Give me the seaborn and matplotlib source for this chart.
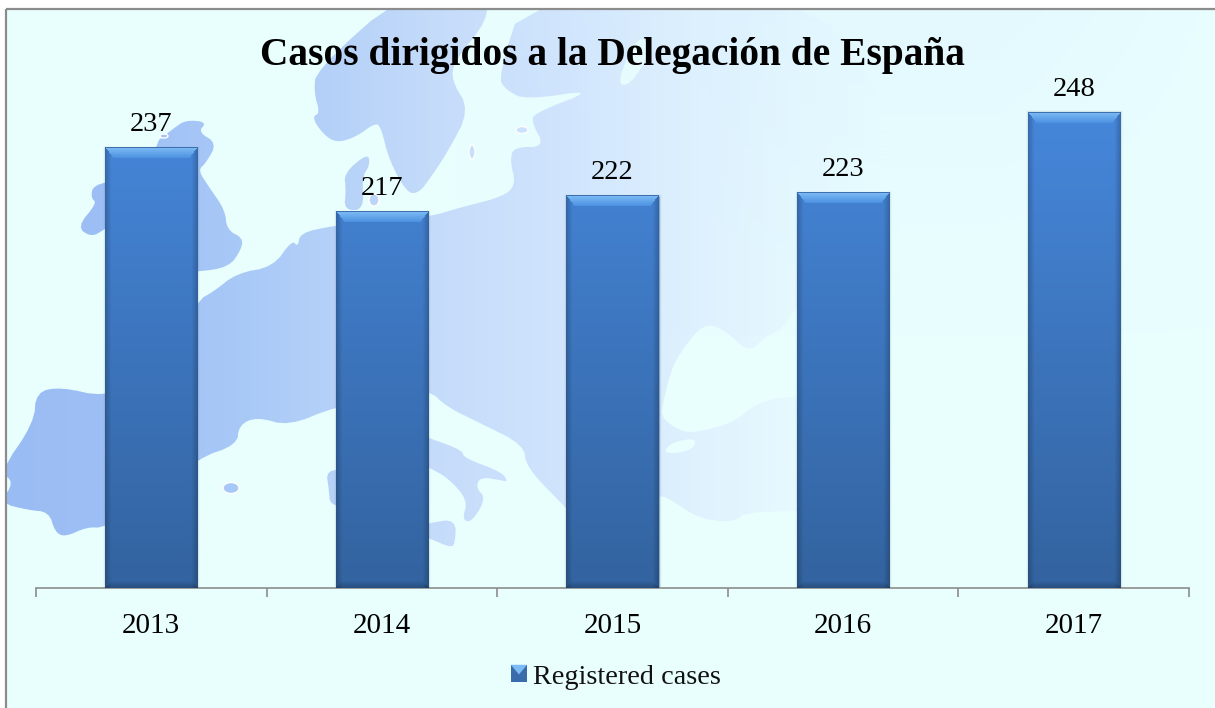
import matplotlib
matplotlib.use("Agg")
import matplotlib.pyplot as plt
import numpy as np
import seaborn as sns
from matplotlib.colors import to_rgb
from matplotlib.legend_handler import HandlerPatch
from matplotlib.patches import Ellipse, Polygon, Rectangle

years = ["2013", "2014", "2015", "2016", "2017"]
cases = [237, 217, 222, 223, 248]
series_name = "Registered cases"
title = "Casos dirigidos a la Delegación de España"

# map picture behind the chart, in image pixels
mainland = [(36, 392), (61, 387), (104, 397), (150, 380), (198, 300), (213, 292), (237, 273), (273, 267),
            (292, 240), (298, 247), (300, 233), (332, 226), (380, 220), (429, 217), (462, 207), (502, 197),
            (516, 185), (510, 160), (514, 147), (545, 147), (532, 123), (534, 113), (597, 89), (526, 100),
            (506, 90), (498, 77), (525, -8), (900, -8), (900, 513), (749, 510), (733, 523), (698, 518),
            (676, 503), (661, 495), (650, 500), (620, 565), (565, 507), (526, 467), (524, 445), (480, 423),
            (447, 407), (429, 390), (400, 395), (334, 407), (289, 426), (257, 417), (239, 425), (237, 445),
            (198, 458), (150, 500), (104, 528), (87, 527), (65, 537), (55, 532), (49, 512), (28, 510),
            (0, 503), (14, 482), (0, 472), (34, 423)]
sweden = [(403, -8), (316, 70), (314, 93), (320, 113), (312, 117), (322, 133), (336, 143), (356, 137),
          (375, 123), (381, 127), (389, 160), (407, 193), (419, 193), (431, 177), (447, 153), (470, 110),
          (451, 80), (455, 60), (488, 20), (486, -8)]
britain = [(174, 128), (186, 120), (207, 122), (198, 132), (217, 143), (206, 163), (198, 170), (209, 187),
           (225, 210), (227, 230), (243, 238), (241, 250), (229, 267), (198, 272), (150, 272), (150, 147)]
ireland = [(93, 185), (91, 198), (97, 203), (77, 227), (91, 237), (104, 230), (130, 210), (120, 180)]
denmark = [(344, 173), (368, 153), (370, 165), (362, 177), (364, 210), (344, 210), (346, 190)]
italy = [(380, 420), (429, 438), (462, 450), (464, 458), (502, 472), (508, 482), (500, 480), (480, 477),
         (476, 488), (486, 498), (472, 522), (462, 520), (468, 500), (447, 477), (429, 468), (390, 445)]
sicily = [(400, 530), (429, 523), (456, 519), (455, 545), (449, 547), (429, 538)]
corsica = [(326, 470), (350, 470), (350, 507), (330, 505), (329, 490)]
black_sea = [(663, 403), (671, 370), (682, 350), (704, 323), (725, 330), (749, 353), (765, 337), (784, 328),
             (800, 300), (920, 300), (920, 395), (792, 395), (757, 403), (733, 423), (694, 433), (678, 430),
             (661, 417)]
marmara = [(663, 453), (672, 442), (696, 438), (694, 448), (680, 453)]
ladoga = [(639, 33), (616, 83), (630, 86), (652, 50)]
land_shapes = [mainland, sweden, britain, ireland, denmark, italy, sicily, corsica]
sea_shapes = [black_sea, marmara, ladoga]
islands = [(231, 488, 16, 11), (472, 152, 6, 14), (522, 130, 12, 7), (374, 200, 10, 12), (164, 136, 8, 4)]

land_x = [0, 100, 250, 430, 560, 700, 800, 880]
land_col = ["#9ABCF4", "#9DBFF5", "#A9C9F7", "#C4DBFA", "#D0E4FD", "#DFF2FE", "#E6FAFF", "#E9FFFE"]
sea_col = "#E9FFFE"
tint_col = "#D8EEFF"
frame_col = "#8C8C8C"

sns.set_theme(style="white")
plt.rcParams["font.family"] = ["Liberation Serif", "DejaVu Serif"]


def soften(shape, rounds=2):
    # corner cutting so the coast does not look faceted
    pts = np.array(shape, dtype=float)
    for _ in range(rounds):
        nxt = np.roll(pts, -1, axis=0)
        pts = np.column_stack([0.75 * pts + 0.25 * nxt, 0.25 * pts + 0.75 * nxt]).reshape(-1, 2)
    return pts


fig = plt.figure(figsize=(12.15, 7.08), dpi=100, facecolor="white")

# background layer
bg = fig.add_axes([0, 0, 1, 1])
bg.set_xlim(0, 1215)
bg.set_ylim(708, 0)
bg.axis("off")
bg.add_patch(Rectangle((6, 9), 1215, 705, facecolor=sea_col, edgecolor="none", zorder=0))

xs = np.arange(1215)
rgb = np.array([to_rgb(c) for c in land_col])
strip = np.stack([np.interp(xs, land_x, rgb[:, i]) for i in range(3)], axis=-1)[None, :, :]
for shape in land_shapes:
    poly = Polygon(soften(shape), closed=True, facecolor="none", edgecolor="none")
    bg.add_patch(poly)
    im = bg.imshow(strip, extent=(0, 1215, 708, 0), aspect="auto", interpolation="bilinear", zorder=1)
    im.set_clip_path(poly)
for cx, cy, w, h in islands:
    bg.add_patch(Ellipse((cx, cy), w, h, facecolor=strip[0, cx], zorder=2))
for shape in sea_shapes:
    bg.add_patch(Polygon(soften(shape), closed=True, facecolor=sea_col, edgecolor="none", zorder=3))

# faint blue haze over the north east of the picture
yy, xx = np.mgrid[0:700, 0:1209]
haze = np.zeros((700, 1209, 4))
haze[..., :3] = to_rgb(tint_col)
haze[..., 3] = 0.35 * np.clip(1 - yy / 330, 0, 1) * np.interp(xx + 6, [450, 720, 1000, 1215], [0, 1, 1, 0.3])
bg.imshow(haze, extent=(6, 1215, 709, 9), aspect="auto", zorder=4)

# white margin and the picture frame sit on top of the map
bg.add_patch(Rectangle((0, 0), 1215, 9, facecolor="white", edgecolor="none", zorder=5))
bg.add_patch(Rectangle((0, 0), 6, 708, facecolor="white", edgecolor="none", zorder=5))
bg.add_patch(Rectangle((6, 9), 1215, 705, facecolor="none", edgecolor=frame_col, lw=1.6, zorder=6))
bg.set_xlim(0, 1215)
bg.set_ylim(708, 0)

# chart layer
ymin, ymax = 100, 250
ax = fig.add_axes([36 / 1215, (708 - 588) / 708, (1189 - 36) / 1215, 150 * 3.215 / 708])
ax.patch.set_alpha(0)
sns.barplot(x=years, y=cases, width=0.4, color="#3F77C5", saturation=1, label=series_name, ax=ax, legend=False)
ax.set_xlim(-0.5, 4.5)
ax.set_ylim(ymin, ymax)
ax.set_xlabel("")
ax.set_ylabel("")
ax.set_yticks([])
sns.despine(ax=ax, left=True)
ax.spines["bottom"].set_color(frame_col)
ax.spines["bottom"].set_linewidth(1.2)
ax.set_xticks(np.arange(-0.5, 5, 1), minor=True)
ax.tick_params(axis="x", which="minor", length=6.5, width=1.2, color=frame_col, bottom=True)
ax.tick_params(axis="x", which="major", length=0, pad=18, labelsize=21, labelcolor="black")


def bevel_image(w, h):
    top = np.array(to_rgb("#4687DB"))
    bottom = np.array(to_rgb("#33639F"))
    yy, xx = np.mgrid[0:h, 0:w]
    # the body gets darker down the whole chart height
    frac = ((yy + 476 - h) / 476)[..., None]
    img = top * (1 - frac) + bottom * frac
    side = np.minimum(xx, w - 1 - xx)
    shade = np.clip(side / 6, 0, 1)[..., None]
    img = img * (0.8 + 0.2 * shade)
    # top and bottom bevels, mitred into the sides
    light = (yy < 11) & (yy <= side * 1.3)
    t = np.clip(yy / 10, 0, 1)[..., None]
    img = np.where(light[..., None], np.array(to_rgb("#7DBBF5")) * (1 - t) + np.array(to_rgb("#4E93E2")) * t, img)
    low = h - 1 - yy
    dark = (low < 6) & (low <= side)
    img = np.where(dark[..., None], img * (0.80 + 0.03 * low[..., None]), img)
    img[:1, :] = to_rgb("#3E6FAE")
    return img


for bar, val in zip(ax.containers[0], cases):
    bar.set_edgecolor((0.3, 0.3, 0.3, 0.12))
    bar.set_linewidth(2.5)
    x0 = bar.get_x()
    x1 = x0 + bar.get_width()
    w_px = int(round(bar.get_width() * (1189 - 36) / 5))
    h_px = int(round((val - ymin) * 3.215))
    im = ax.imshow(bevel_image(w_px, h_px), extent=(x0, x1, ymin, val), aspect="auto", zorder=3,
                   interpolation="bilinear")
ax.set_xlim(-0.5, 4.5)
ax.set_ylim(ymin, ymax)
ax.bar_label(ax.containers[0], labels=[str(v) for v in cases], padding=7.5, fontsize=20.5, color="black", zorder=4)
ax.spines["bottom"].set_zorder(2)


class BevelHandler(HandlerPatch):
    def create_artists(self, legend, orig, xd, yd, width, height, fontsize, trans):
        body = Rectangle((-xd, -yd), width, height, facecolor="#3A6CAC", edgecolor="none", transform=trans)
        cap = Polygon([(-xd, height - yd), (width - xd, height - yd), (width / 2 - xd, height * 0.45 - yd)],
                      facecolor="#7DBBF5", edgecolor="none", transform=trans)
        return [body, cap]


handle = ax.containers[0][0]
fig.legend([handle], [series_name], handler_map={type(handle): BevelHandler()}, loc="center",
           bbox_to_anchor=(616 / 1215, (708 - 677) / 708), frameon=False, fontsize=20.3,
           handlelength=0.58, handleheight=0.58, handletextpad=0.22, labelcolor="#111111")

fig.text(612 / 1215, (708 - 65) / 708, title, ha="center", va="baseline", fontsize=28.4, fontweight="bold",
         color="black")

fig.savefig("out.png", dpi=100)
